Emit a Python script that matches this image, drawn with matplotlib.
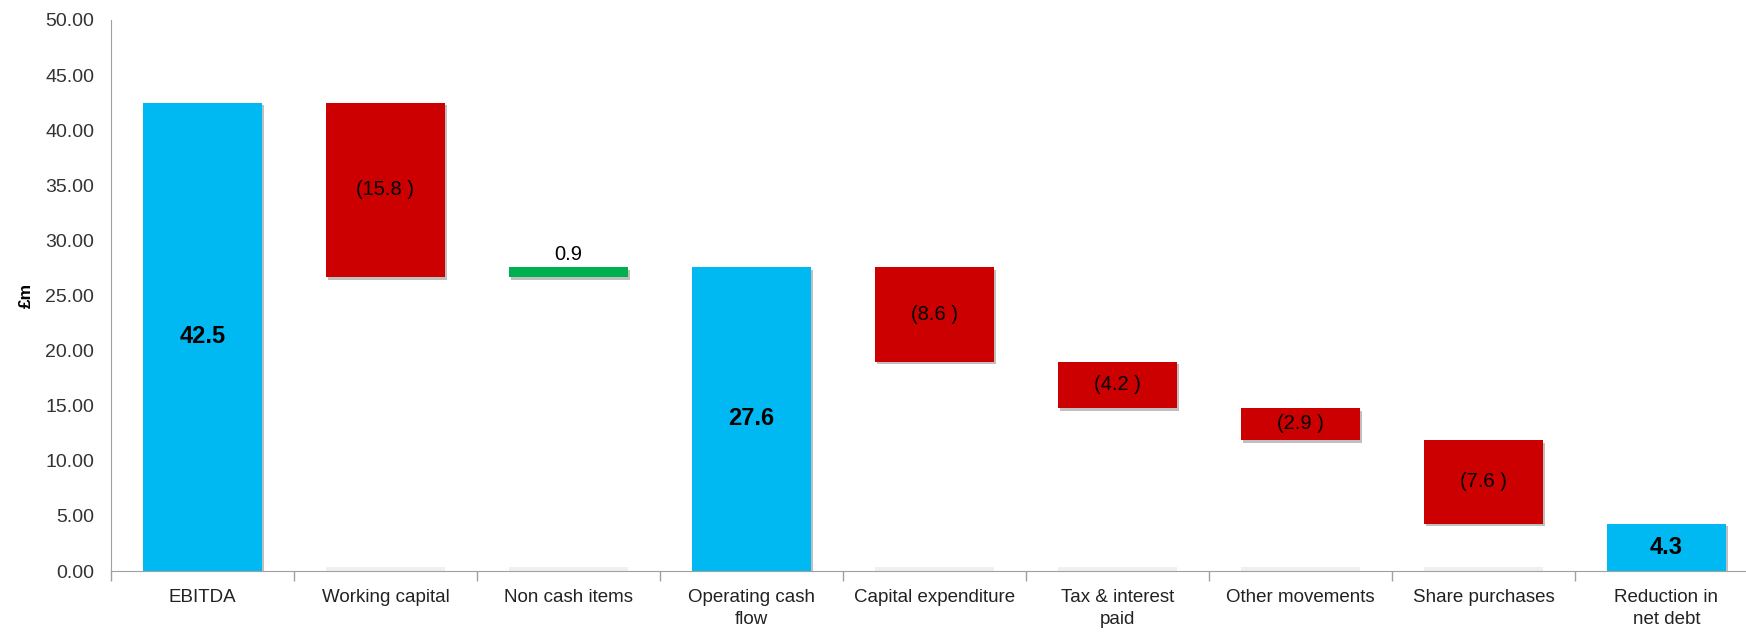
import matplotlib
matplotlib.use("Agg")
import matplotlib.pyplot as plt
import matplotlib.patheffects as pe
import numpy as np

plt.rcParams['font.family'] = ['Liberation Sans', 'DejaVu Sans']

categories = ["EBITDA", "Working capital", "Non cash items", "Operating cash\nflow",
              "Capital expenditure", "Tax & interest\npaid", "Other movements",
              "Share purchases", "Reduction in\nnet debt"]
# movement per step; None for totals
changes = [42.5, -15.8, 0.9, None, -8.6, -4.2, -2.9, -7.6, None]
is_total = [True, False, False, True, False, False, False, False, True]
labels = ["42.5", "(15.8 )", "0.9", "27.6", "(8.6 )", "(4.2 )", "(2.9 )", "(7.6 )", "4.3"]

BLUE = "#00B9F2"
RED = "#CC0000"
GREEN = "#00B050"

# running totals
bottoms, heights, colors = [], [], []
level = 0.0
for c, tot in zip(changes, is_total):
    if tot:
        if c is not None:
            level = c
        bottoms.append(0)
        heights.append(level)
        colors.append(BLUE)
    else:
        new = level + c
        bottoms.append(min(level, new))
        heights.append(abs(c))
        colors.append(RED if c < 0 else GREEN)
        level = new

fig = plt.figure(figsize=(17.46, 6.36), dpi=100)
ax = fig.add_axes([111 / 1746, 65 / 636, 9 * 183 / 1746, 551 / 636])

x = np.arange(len(categories))
shadow = [pe.SimplePatchShadow(offset=(1.5, -2), shadow_rgbFace="#000000", alpha=0.25), pe.Normal()]

# faint ghost bars at the base of floating bars
for i, tot in enumerate(is_total):
    if not tot:
        ax.bar(x[i], 0.35, width=0.65, bottom=0, color="#F0F0F0", zorder=1)

bars = ax.bar(x, heights, bottom=bottoms, width=0.65, color=colors, zorder=2)
for b in bars:
    b.set_path_effects(shadow)

for i, (b, h, lab) in enumerate(zip(bottoms, heights, labels)):
    if is_total[i]:
        ax.text(x[i], b + h / 2, lab, ha="center", va="center", fontsize=17,
                fontweight="bold", color="black", zorder=3)
    elif changes[i] > 0:
        ax.text(x[i], b + h + 0.3, lab, ha="center", va="bottom", fontsize=14.5,
                color="black", zorder=3)
    else:
        ax.text(x[i], b + h / 2, lab, ha="center", va="center", fontsize=14.5,
                color="black", zorder=3)

ax.set_xlim(-0.5, len(categories) - 0.5)
ax.set_ylim(0, 50)
ax.set_yticks(np.arange(0, 50.1, 5))
ax.set_yticklabels([f"{v:.2f}" for v in np.arange(0, 50.1, 5)], fontsize=14, color="#333333")
ax.tick_params(axis="y", length=0, pad=12)

ax.set_xticks(x)
ax.set_xticklabels(categories, fontsize=13.5, color="#222222", linespacing=1.4)
ax.set_xticks(np.arange(-0.5, len(categories), 1), minor=True)
ax.tick_params(axis="x", which="major", length=0, pad=13)
ax.tick_params(axis="x", which="minor", length=7, color="#A0A0A0", width=1)

ax.set_ylabel("£m", fontsize=12.5, fontweight="bold", labelpad=8)

for s in ["top", "right"]:
    ax.spines[s].set_visible(False)
ax.spines["left"].set_color("#A0A0A0")
ax.spines["bottom"].set_color("#A0A0A0")

fig.savefig("out.png", dpi=100)
